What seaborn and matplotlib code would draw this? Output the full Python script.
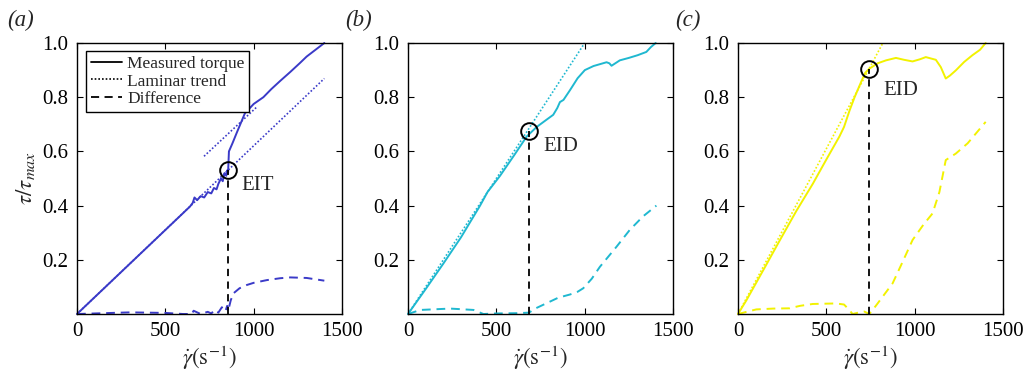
import numpy as np
import pandas as pd
import matplotlib
matplotlib.use("Agg")
import matplotlib.pyplot as plt
from matplotlib.lines import Line2D
import seaborn as sns

# ---------------- data ----------------
# Panel (a)
a_meas_x = [0, 100, 200, 300, 400, 500, 600, 640, 655, 665, 680, 700, 720, 740, 760, 775, 790, 800,
            815, 825, 835, 845, 850, 855, 860, 880, 905, 950, 1000, 1055, 1100, 1150, 1207, 1260, 1300, 1350, 1400]
a_meas_y = [0, 0.062, 0.124, 0.186, 0.248, 0.31, 0.372, 0.397, 0.41, 0.43, 0.42, 0.435, 0.43, 0.45, 0.445,
            0.465, 0.46, 0.48, 0.5, 0.49, 0.52, 0.51, 0.53, 0.52, 0.6, 0.63, 0.67, 0.74, 0.775, 0.80, 0.83,
            0.86, 0.893, 0.925, 0.95, 0.975, 1.0]
a_lam1_x = [0, 1400]
a_lam1_y = [0, 0.869]
a_lam2_x = [719, 1018]
a_lam2_y = [0.582, 0.764]
a_diff_x = [0, 100, 300, 500, 600, 650, 660, 700, 740, 760, 780, 800, 820, 840, 850, 855, 870, 885, 920,
            961, 1000, 1074, 1150, 1207, 1300, 1400]
a_diff_y = [0, 0.002, 0.006, 0.004, 0.0, 0.0, 0.012, 0.0, 0.008, 0.002, 0.015, 0.005, 0.025, 0.01, 0.03,
            0.01, 0.05, 0.076, 0.095, 0.107, 0.115, 0.125, 0.132, 0.135, 0.133, 0.123]

# Panel (b)
b_meas_x = [0, 100, 200, 300, 408, 450, 521, 600, 672, 728, 780, 822, 845, 860, 880, 917, 960, 1001, 1050,
            1124, 1140, 1152, 1199, 1250, 1300, 1349, 1375, 1402]
b_meas_y = [0, 0.092, 0.186, 0.283, 0.40, 0.45, 0.51, 0.585, 0.655, 0.69, 0.715, 0.735, 0.76, 0.782, 0.79,
            0.826, 0.87, 0.90, 0.915, 0.929, 0.925, 0.916, 0.936, 0.945, 0.955, 0.967, 0.985, 1.0]
b_lam_x = [0, 1000]
b_lam_y = [0, 1.0]
b_diff_x = [0, 70, 239, 371, 427, 500, 615, 685, 720, 785, 850, 917, 960, 992, 1040, 1086, 1180, 1255, 1330, 1406]
b_diff_y = [0, 0.015, 0.02, 0.015, 0, 0.002, 0.003, 0.005, 0.02, 0.04, 0.06, 0.072, 0.082, 0.095, 0.13,
            0.174, 0.248, 0.31, 0.36, 0.40]

# Panel (c)
c_meas_x = [0, 47, 150, 235, 330, 423, 500, 574, 600, 631, 660, 696, 720, 743, 790, 838, 894, 940, 988, 1030,
            1063, 1120, 1148, 1176, 1200, 1233, 1280, 1327, 1370, 1402]
c_meas_y = [0, 0.05, 0.17, 0.27, 0.38, 0.48, 0.57, 0.655, 0.69, 0.75, 0.80, 0.855, 0.89, 0.905, 0.925, 0.936,
            0.945, 0.938, 0.932, 0.94, 0.948, 0.938, 0.911, 0.869, 0.88, 0.899, 0.93, 0.955, 0.975, 1.0]
c_lam_x = [0, 820]
c_lam_y = [0, 1.0]
c_diff_x = [0, 104, 200, 292, 350, 423, 555, 600, 612, 649, 680, 715, 743, 780, 875, 930, 988, 1050, 1101,
            1140, 1176, 1233, 1300, 1402]
c_diff_y = [0, 0.017, 0.02, 0.021, 0.03, 0.037, 0.039, 0.035, 0.027, 0, 0.005, 0.009, 0, 0.03, 0.113, 0.19,
            0.273, 0.33, 0.371, 0.45, 0.568, 0.592, 0.63, 0.709]

# transition points
trans_x = [853, 685, 743]
trans_y = [0.53, 0.675, 0.905]
trans_labels = ["EIT", "EID", "EID"]
panel_labels = ["(a)", "(b)", "(c)"]
colors = ["#3a3ac8", "#1fb8d0", "#f2f200"]

x_ticks = [0, 500, 1000, 1500]
y_ticks = [0.2, 0.4, 0.6, 0.8, 1.0]

# ---------------- style ----------------
sns.set_theme(style="ticks")
plt.rcParams['font.family'] = ['Liberation Serif', 'DejaVu Serif']
plt.rcParams['mathtext.fontset'] = 'stix'
plt.rcParams['xtick.direction'] = 'in'
plt.rcParams['ytick.direction'] = 'in'

fig = plt.figure(figsize=(10.27, 3.78), dpi=100)
lefts = [77 / 1027, 408 / 1027, 738 / 1027]
bottom = (378 - 314) / 378
w = 265 / 1027
h = 271 / 378

panels = [
    (a_meas_x, a_meas_y, [(a_lam1_x, a_lam1_y), (a_lam2_x, a_lam2_y)], a_diff_x, a_diff_y),
    (b_meas_x, b_meas_y, [(b_lam_x, b_lam_y)], b_diff_x, b_diff_y),
    (c_meas_x, c_meas_y, [(c_lam_x, c_lam_y)], c_diff_x, c_diff_y),
]

text_off = [(80, -0.055), (80, -0.058), (80, -0.082)]

for i, (mx, my, lams, dx, dy) in enumerate(panels):
    ax = fig.add_axes([lefts[i], bottom, w, h])
    col = colors[i]
    sns.lineplot(x=mx, y=my, ax=ax, color=col, lw=1.4, clip_on=False)
    for lx, ly in lams:
        sns.lineplot(x=lx, y=ly, ax=ax, color=col, lw=1.2, linestyle=(0, (1, 1.2)), clip_on=False)
    sns.lineplot(x=dx, y=dy, ax=ax, color=col, lw=1.4, linestyle=(0, (4.5, 3)), clip_on=False)
    ax.plot([trans_x[i], trans_x[i]], [0, trans_y[i]], color='black', lw=1.3, linestyle=(0, (4, 3)))
    ax.plot([trans_x[i]], [trans_y[i]], marker='o', ms=12, mfc='none', mec='black', mew=1.4)
    ax.text(trans_x[i] + text_off[i][0], trans_y[i] + text_off[i][1], trans_labels[i],
            fontsize=15, va='center', ha='left')
    ax.set_xlim(0, 1500)
    ax.set_ylim(0, 1.0)
    ax.set_xticks(x_ticks)
    ax.set_xticklabels([str(t) for t in x_ticks])
    ax.set_yticks(y_ticks)
    ax.set_yticklabels([f"{t:.1f}" for t in y_ticks])
    ax.tick_params(axis='both', which='both', direction='in', top=True, right=True,
                   length=4, width=0.8, labelsize=15, pad=6, colors='black')
    for s in ax.spines.values():
        s.set_visible(True)
        s.set_linewidth(1.0)
        s.set_color('black')
    ax.set_xlabel(r'$\dot{\gamma}(\mathrm{s}^{-1})$', fontsize=16.5, labelpad=2)
    ax.set_ylabel('')
    fig.text(lefts[i] - (70 if i == 0 else 63) / 1027, 0.945, panel_labels[i],
             fontsize=16.5, fontstyle='italic', va='center', ha='left')
    if i == 0:
        ax.set_ylabel(r'$\tau/\tau_{max}$', fontsize=16.5, labelpad=4)
        handles = [Line2D([], [], color='black', lw=1.3),
                   Line2D([], [], color='black', lw=1.2, linestyle=(0, (1, 1.2))),
                   Line2D([], [], color='black', lw=1.3, linestyle=(0, (4.5, 3)))]
        leg = ax.legend(handles, ["Measured torque", "Laminar trend", "Difference"],
                        loc='upper left', bbox_to_anchor=(0.035, 0.97), fontsize=12.5,
                        frameon=True, fancybox=False, edgecolor='black', framealpha=1,
                        handlelength=1.8, handletextpad=0.3, labelspacing=0.1,
                        borderpad=0.25, borderaxespad=0.0)
        leg.get_frame().set_linewidth(1.0)

fig.savefig("out.png", dpi=100)
